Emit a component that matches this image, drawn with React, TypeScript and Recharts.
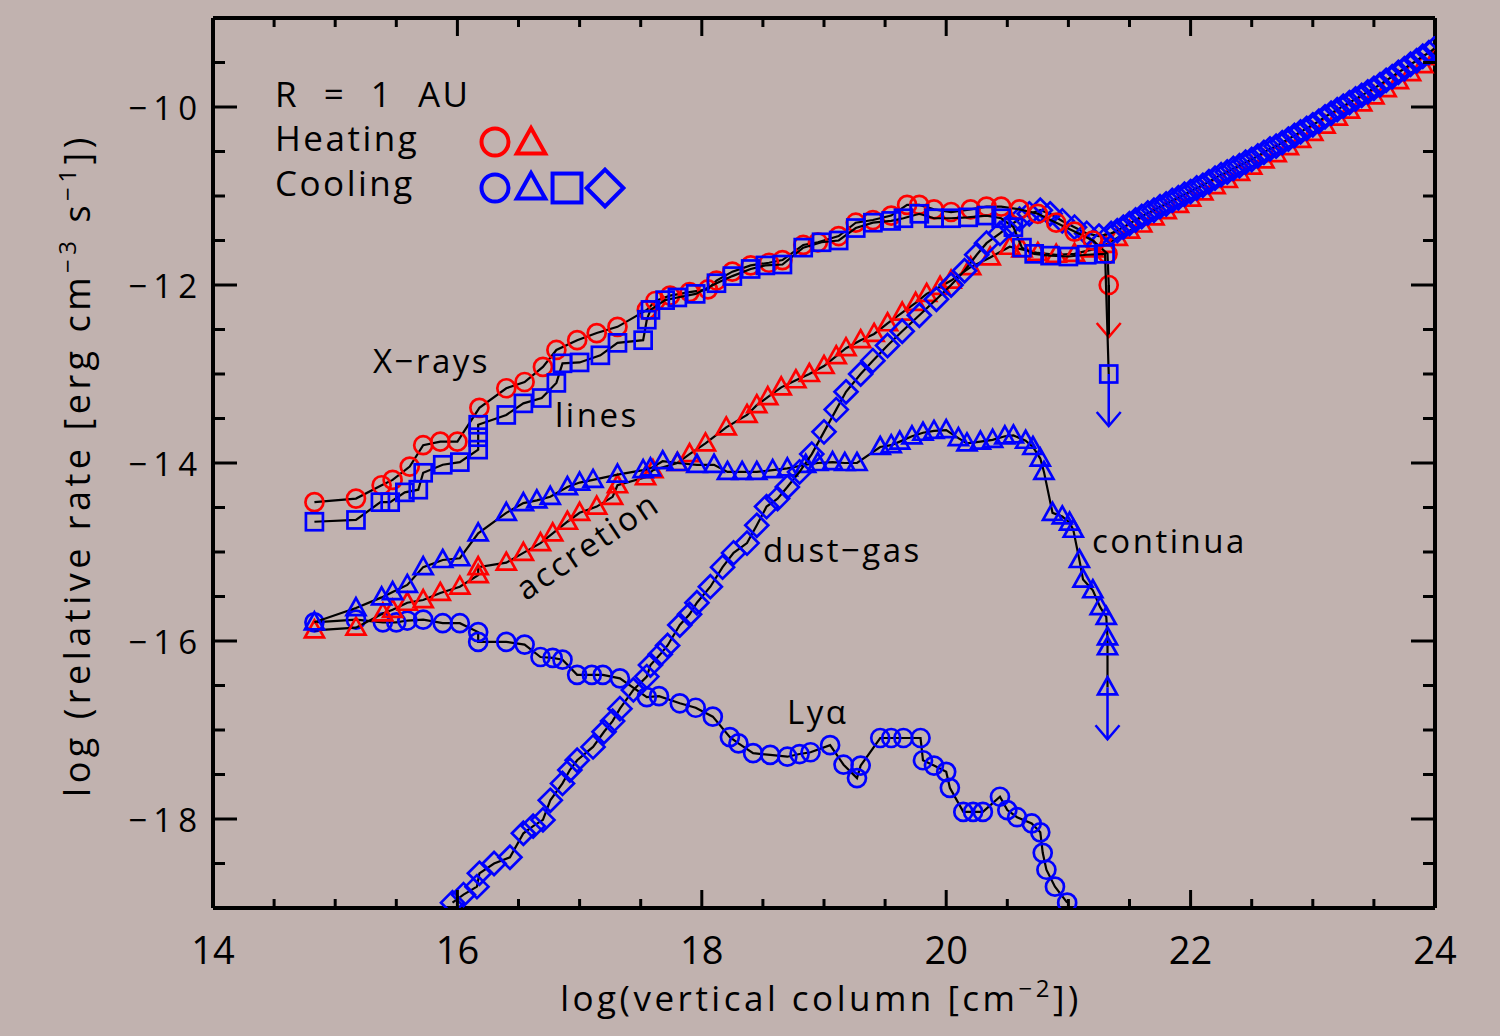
import React from "react";
import { ScatterChart, Scatter, XAxis, YAxis } from "recharts";

const RED = "#ff0000";
const BLUE = "#0000ff";
const BG = "#c1b2af";
const FONT = "'Open Sans', 'DejaVu Sans', sans-serif";

// [log vertical column, log relative rate]
const xraysHeating = [
  [14.83, -14.44], [15.17, -14.4], [15.38, -14.25], [15.47, -14.19], [15.61, -14.04],
  [15.72, -13.8], [15.86, -13.76], [16.0, -13.76], [16.18, -13.38], [16.4, -13.16],
  [16.55, -13.09], [16.7, -12.92], [16.81, -12.73], [16.98, -12.62], [17.14, -12.54],
  [17.31, -12.47], [17.55, -12.28], [17.62, -12.18], [17.74, -12.12], [17.9, -12.08],
  [18.05, -12.05], [18.12, -11.95], [18.25, -11.85], [18.4, -11.78], [18.55, -11.75],
  [18.66, -11.72], [18.83, -11.55], [18.95, -11.52], [19.12, -11.45], [19.26, -11.3],
  [19.4, -11.27], [19.55, -11.22], [19.68, -11.1], [19.78, -11.1], [19.9, -11.15],
  [20.04, -11.18], [20.2, -11.15], [20.33, -11.12], [20.45, -11.12], [20.6, -11.15],
  [20.75, -11.2], [20.9, -11.3], [21.05, -11.4], [21.2, -11.5], [21.32, -11.65],
  [21.33, -12.0],
];

const accretionHeating = [
  [14.83, -15.88], [15.17, -15.85], [15.39, -15.69], [15.47, -15.65], [15.59, -15.57],
  [15.72, -15.54], [15.86, -15.46], [16.02, -15.39], [16.17, -15.26], [16.17, -15.17],
  [16.4, -15.12], [16.54, -15.01], [16.68, -14.9], [16.78, -14.79], [16.9, -14.66],
  [17.0, -14.56], [17.14, -14.49], [17.27, -14.38], [17.31, -14.25], [17.54, -14.16],
  [17.6, -14.08], [17.8, -14.0], [17.9, -13.9], [18.03, -13.78], [18.2, -13.6],
  [18.37, -13.46], [18.45, -13.35], [18.54, -13.26], [18.65, -13.15], [18.77, -13.07],
  [18.88, -13.0], [19.0, -12.91], [19.1, -12.8], [19.18, -12.71], [19.3, -12.62],
  [19.41, -12.55], [19.52, -12.43], [19.64, -12.31], [19.75, -12.2], [19.84, -12.1],
  [19.95, -12.02], [20.04, -11.95], [20.2, -11.8], [20.36, -11.69], [20.52, -11.57],
  [20.62, -11.6], [20.75, -11.64], [20.9, -11.66], [21.05, -11.65], [21.2, -11.6],
  [21.3, -11.55], [21.4, -11.47], [21.5, -11.39], [21.6, -11.32], [21.7, -11.24],
  [21.8, -11.17], [21.9, -11.1], [22.0, -11.03], [22.1, -10.96], [22.2, -10.89],
  [22.3, -10.82], [22.4, -10.74], [22.5, -10.67], [22.6, -10.6], [22.7, -10.53],
  [22.8, -10.45], [22.9, -10.37], [23.0, -10.29], [23.1, -10.21], [23.2, -10.12],
  [23.3, -10.04], [23.4, -9.96], [23.5, -9.88], [23.6, -9.8], [23.7, -9.71],
  [23.8, -9.62], [23.9, -9.53], [24.0, -9.44],
];

const linesCooling = [
  [14.83, -14.66], [15.17, -14.64], [15.37, -14.44], [15.45, -14.44], [15.57, -14.33],
  [15.68, -14.3], [15.72, -14.11], [15.88, -14.02], [16.02, -13.99], [16.17, -13.85],
  [16.17, -13.71], [16.17, -13.57], [16.4, -13.46], [16.54, -13.33], [16.69, -13.27],
  [16.81, -13.1], [16.86, -12.88], [17.0, -12.87], [17.17, -12.79], [17.31, -12.65],
  [17.52, -12.62], [17.55, -12.39], [17.58, -12.28], [17.7, -12.17], [17.8, -12.14],
  [17.95, -12.1], [18.12, -11.98], [18.25, -11.9], [18.4, -11.82], [18.52, -11.78],
  [18.66, -11.77], [18.83, -11.58], [18.98, -11.52], [19.12, -11.5], [19.26, -11.36],
  [19.4, -11.3], [19.55, -11.28], [19.65, -11.25], [19.78, -11.2], [19.9, -11.25],
  [20.04, -11.25], [20.18, -11.24], [20.33, -11.22], [20.45, -11.25], [20.55, -11.35],
  [20.62, -11.58], [20.72, -11.65], [20.85, -11.67], [21.0, -11.68], [21.15, -11.66],
  [21.3, -11.65], [21.33, -13.0],
];

const continuaCooling = [
  [14.83, -15.79], [15.17, -15.63], [15.38, -15.51], [15.47, -15.45], [15.59, -15.37],
  [15.72, -15.17], [15.88, -15.09], [16.02, -15.07], [16.17, -14.79], [16.4, -14.56],
  [16.54, -14.45], [16.65, -14.42], [16.76, -14.38], [16.9, -14.27], [17.0, -14.22],
  [17.11, -14.19], [17.31, -14.13], [17.52, -14.08], [17.58, -14.06], [17.68, -13.98],
  [17.8, -14.0], [17.96, -14.02], [18.1, -14.02], [18.21, -14.1], [18.33, -14.1],
  [18.45, -14.1], [18.58, -14.08], [18.7, -14.06], [18.85, -14.02], [18.95, -14.0],
  [19.07, -13.99], [19.17, -14.0], [19.27, -14.0], [19.46, -13.82], [19.55, -13.8],
  [19.62, -13.76], [19.72, -13.7], [19.81, -13.66], [19.9, -13.64], [20.0, -13.63],
  [20.1, -13.72], [20.17, -13.78], [20.28, -13.76], [20.38, -13.74], [20.48, -13.7],
  [20.55, -13.69], [20.65, -13.75], [20.71, -13.82], [20.77, -13.95], [20.8, -14.1],
  [20.87, -14.56], [20.95, -14.6], [21.01, -14.67], [21.04, -14.75], [21.09, -15.09],
  [21.12, -15.31], [21.2, -15.43], [21.26, -15.62], [21.31, -15.73], [21.32, -15.96],
  [21.32, -16.07], [21.32, -16.52],
];

const dustGasCooling = [
  [15.96, -18.94], [16.05, -18.85], [16.16, -18.76], [16.18, -18.61], [16.3, -18.5],
  [16.43, -18.43], [16.54, -18.16], [16.62, -18.08], [16.7, -18.01], [16.76, -17.79],
  [16.86, -17.6], [16.92, -17.45], [16.98, -17.34], [17.11, -17.19], [17.2, -17.02],
  [17.27, -16.9], [17.33, -16.76], [17.44, -16.55], [17.55, -16.4], [17.58, -16.27],
  [17.66, -16.15], [17.72, -16.05], [17.82, -15.82], [17.9, -15.7], [17.96, -15.57],
  [18.07, -15.39], [18.17, -15.17], [18.26, -15.01], [18.37, -14.9], [18.45, -14.7],
  [18.53, -14.49], [18.62, -14.4], [18.7, -14.27], [18.8, -14.1], [18.9, -13.9],
  [19.0, -13.65], [19.1, -13.4], [19.18, -13.2], [19.3, -13.0], [19.4, -12.85],
  [19.52, -12.68], [19.64, -12.52], [19.78, -12.34], [19.92, -12.16], [20.04, -12.0],
  [20.15, -11.84], [20.25, -11.66], [20.33, -11.53], [20.44, -11.42], [20.52, -11.33],
  [20.6, -11.26], [20.68, -11.2], [20.77, -11.16], [20.85, -11.2], [20.95, -11.28],
  [21.05, -11.35], [21.15, -11.42], [21.25, -11.45], [21.35, -11.42], [21.4, -11.39],
  [21.45, -11.35], [21.5, -11.31], [21.55, -11.27], [21.6, -11.23], [21.65, -11.19],
  [21.7, -11.16], [21.75, -11.12], [21.8, -11.09], [21.85, -11.05], [21.9, -11.02],
  [21.95, -10.98], [22.0, -10.95], [22.05, -10.91], [22.1, -10.88], [22.15, -10.84],
  [22.2, -10.8], [22.25, -10.76], [22.3, -10.73], [22.35, -10.69], [22.4, -10.66],
  [22.45, -10.62], [22.5, -10.59], [22.55, -10.55], [22.6, -10.51], [22.65, -10.47],
  [22.7, -10.44], [22.75, -10.4], [22.8, -10.36], [22.85, -10.32], [22.9, -10.28],
  [22.95, -10.24], [23.0, -10.2], [23.05, -10.16], [23.1, -10.11], [23.15, -10.07],
  [23.2, -10.03], [23.25, -9.99], [23.3, -9.95], [23.35, -9.91], [23.4, -9.87],
  [23.45, -9.83], [23.5, -9.79], [23.55, -9.75], [23.6, -9.7], [23.65, -9.66],
  [23.7, -9.61], [23.75, -9.57], [23.8, -9.52], [23.85, -9.48], [23.9, -9.43],
  [23.95, -9.39], [24.0, -9.34],
];

const lyaCooling = [
  [14.83, -15.79], [15.17, -15.76], [15.39, -15.79], [15.5, -15.79], [15.59, -15.77],
  [15.72, -15.76], [15.88, -15.8], [16.02, -15.8], [16.17, -15.9], [16.17, -16.01],
  [16.4, -16.01], [16.55, -16.04], [16.68, -16.18], [16.78, -16.19], [16.86, -16.21],
  [16.98, -16.38], [17.1, -16.38], [17.19, -16.38], [17.33, -16.42], [17.55, -16.63],
  [17.65, -16.62], [17.82, -16.7], [17.95, -16.75], [18.09, -16.85], [18.23, -17.08],
  [18.3, -17.15], [18.42, -17.26], [18.56, -17.28], [18.7, -17.3], [18.8, -17.27],
  [18.89, -17.25], [19.05, -17.17], [19.16, -17.39], [19.27, -17.54], [19.3, -17.4],
  [19.46, -17.09], [19.55, -17.09], [19.65, -17.09], [19.79, -17.09], [19.81, -17.34],
  [19.9, -17.4], [20.0, -17.47], [20.03, -17.65], [20.14, -17.92], [20.22, -17.92],
  [20.3, -17.92], [20.44, -17.75], [20.5, -17.9], [20.58, -17.98], [20.7, -18.05],
  [20.77, -18.15], [20.79, -18.38], [20.82, -18.57], [20.89, -18.76], [20.99, -18.94],
];

const xTicks = [14, 14.5, 15, 15.5, 16, 16.5, 17, 17.5, 18, 18.5, 19, 19.5, 20, 20.5, 21, 21.5, 22, 22.5, 23, 23.5, 24];
const yTicks = [-19, -18.5, -18, -17.5, -17, -16.5, -16, -15.5, -15, -14.5, -14, -13.5, -13, -12.5, -12, -11.5, -11, -10.5, -10, -9.5, -9];

// last point of these series is an upper limit
const toPoints = (arr: number[][], lastIsLimit = false) =>
  arr.map((p, i) => ({ x: p[0], y: p[1], limit: lastIsLimit && i === arr.length - 1 }));

const Marker = ({ cx, cy, kind, color, limit, shaft, s = 1, sw = 2.7 }: any) => {
  if (cx == null || cy == null) return null;
  let sym: any = null;
  if (kind === "circle") {
    sym = <circle cx={cx} cy={cy} r={9 * s} fill="none" stroke={color} strokeWidth={sw} />;
  } else if (kind === "triangle") {
    const pts = `${cx},${cy - 10 * s} ${cx + 9.5 * s},${cy + 7 * s} ${cx - 9.5 * s},${cy + 7 * s}`;
    sym = <polygon points={pts} fill="none" stroke={color} strokeWidth={sw} strokeLinejoin="miter" />;
  } else if (kind === "square") {
    sym = <rect x={cx - 8.5 * s} y={cy - 8.5 * s} width={17 * s} height={17 * s} fill="none" stroke={color} strokeWidth={sw} />;
  } else {
    const d = 11.5 * s;
    const pts = `${cx},${cy - d} ${cx + d},${cy} ${cx},${cy + d} ${cx - d},${cy}`;
    sym = <polygon points={pts} fill="none" stroke={color} strokeWidth={sw} />;
  }
  return (
    <g>
      {limit && (
        <g>
          <line x1={cx} y1={cy} x2={cx} y2={cy + 52} stroke={shaft || color} strokeWidth={2.5} />
          <polyline
            points={`${cx - 12},${cy + 38} ${cx},${cy + 52} ${cx + 12},${cy + 38}`}
            fill="none"
            stroke={color}
            strokeWidth={2.5}
          />
        </g>
      )}
      {sym}
    </g>
  );
};

const shapeOf = (kind: string, color: string, shaft?: string) => (p: any) =>
  <Marker cx={p.cx} cy={p.cy} kind={kind} color={color} limit={p.payload && p.payload.limit} shaft={shaft} />;

const isMajor = (v: number) => Math.abs(v % 2) < 1e-9;

const XTick = ({ x, y, payload, top }: any) => {
  const v = payload.value;
  const len = isMajor(v) ? 18 : 9;
  return (
    <g>
      <line x1={x} x2={x} y1={y} y2={top ? y + len : y - len} stroke="#000" strokeWidth={3} />
      {!top && isMajor(v) && (
        <text x={x} y={y + 56} textAnchor="middle" fontFamily={FONT} fontSize={38} fill="#000">
          {v}
        </text>
      )}
    </g>
  );
};

const YTick = ({ x, y, payload, right }: any) => {
  const v = payload.value;
  const major = isMajor(v);
  const len = major ? 24 : 12;
  const show = !right && major && v > -19 && v < -9;
  return (
    <g>
      <line x1={x} x2={right ? x - len : x + len} y1={y} y2={y} stroke="#000" strokeWidth={3} />
      {show && (
        <text x={x - 10} y={y} textAnchor="end" dominantBaseline="central" fontFamily={FONT} fontSize={33} letterSpacing={6} fill="#000">
          {"\u2212" + Math.abs(v)}
        </text>
      )}
    </g>
  );
};

const txt = { fontFamily: FONT, fill: "#000", letterSpacing: 2.5 } as any;
const seriesLine = { stroke: "#000", strokeWidth: 2.2 };

export default function App() {
  return (
    <div style={{ position: "absolute", left: 0, top: 0, width: 1500, height: 1036, background: BG, overflow: "hidden" }}>
      <ScatterChart width={1500} height={1036} margin={{ top: 8, right: 55, bottom: 118, left: 113 }}>
        <XAxis
          xAxisId="b"
          type="number"
          dataKey="x"
          domain={[14, 24]}
          ticks={xTicks}
          interval={0}
          height={10}
          tickSize={0}
          tickMargin={0}
          tickLine={false}
          axisLine={{ stroke: "#000", strokeWidth: 4 }}
          tick={<XTick />}
          allowDataOverflow
        />
        <XAxis
          xAxisId="t"
          orientation="top"
          type="number"
          dataKey="x"
          domain={[14, 24]}
          ticks={xTicks}
          interval={0}
          height={10}
          tickSize={0}
          tickMargin={0}
          tickLine={false}
          axisLine={{ stroke: "#000", strokeWidth: 4 }}
          tick={<XTick top />}
          allowDataOverflow
        />
        <YAxis
          yAxisId="l"
          type="number"
          dataKey="y"
          domain={[-19, -9]}
          ticks={yTicks}
          interval={0}
          width={100}
          tickSize={0}
          tickMargin={0}
          tickLine={false}
          axisLine={{ stroke: "#000", strokeWidth: 4 }}
          tick={<YTick />}
          allowDataOverflow
        />
        <YAxis
          yAxisId="r"
          orientation="right"
          type="number"
          dataKey="y"
          domain={[-19, -9]}
          ticks={yTicks}
          interval={0}
          width={10}
          tickSize={0}
          tickMargin={0}
          tickLine={false}
          axisLine={{ stroke: "#000", strokeWidth: 4 }}
          tick={<YTick right />}
          allowDataOverflow
        />
        <Scatter xAxisId="b" yAxisId="l" data={toPoints(lyaCooling)} line={seriesLine} lineType="joint" shape={shapeOf("circle", BLUE)} isAnimationActive={false} />
        <Scatter xAxisId="b" yAxisId="l" data={toPoints(accretionHeating)} line={seriesLine} lineType="joint" shape={shapeOf("triangle", RED)} isAnimationActive={false} />
        <Scatter xAxisId="b" yAxisId="l" data={toPoints(continuaCooling, true)} line={seriesLine} lineType="joint" shape={shapeOf("triangle", BLUE)} isAnimationActive={false} />
        <Scatter xAxisId="b" yAxisId="l" data={toPoints(dustGasCooling)} line={seriesLine} lineType="joint" shape={shapeOf("diamond", BLUE)} isAnimationActive={false} />
        <Scatter xAxisId="b" yAxisId="l" data={toPoints(xraysHeating, true)} line={seriesLine} lineType="joint" shape={shapeOf("circle", RED, "#000")} isAnimationActive={false} />
        <Scatter xAxisId="b" yAxisId="l" data={toPoints(linesCooling, true)} line={seriesLine} lineType="joint" shape={shapeOf("square", BLUE)} isAnimationActive={false} />
      </ScatterChart>

      <svg width={1500} height={1036} style={{ position: "absolute", left: 0, top: 0, pointerEvents: "none" }}>
        {/* legend */}
        <text x={275} y={107} fontSize={35} wordSpacing={13} {...txt}>R = 1 AU</text>
        <text x={275} y={151} fontSize={35} {...txt}>Heating</text>
        <text x={275} y={196} fontSize={35} {...txt}>Cooling</text>
        <Marker cx={495} cy={142} kind="circle" color={RED} s={1.5} sw={4} />
        <Marker cx={531} cy={143} kind="triangle" color={RED} s={1.5} sw={4} />
        <Marker cx={495} cy={188} kind="circle" color={BLUE} s={1.5} sw={4} />
        <Marker cx={531} cy={188} kind="triangle" color={BLUE} s={1.5} sw={4} />
        <Marker cx={567} cy={188} kind="square" color={BLUE} s={1.7} sw={4} />
        <Marker cx={605} cy={188} kind="diamond" color={BLUE} s={1.6} sw={4} />

        {/* curve labels */}
        <text x={373} y={373} fontSize={33} {...txt}>X{"\u2212"}rays</text>
        <text x={555} y={427} fontSize={33} {...txt}>lines</text>
        <text x={587} y={545} fontSize={33} textAnchor="middle" dominantBaseline="central" transform="rotate(-34 587 545)" {...txt}>accretion</text>
        <text x={763} y={562} fontSize={33} {...txt}>dust{"\u2212"}gas</text>
        <text x={1092} y={553} fontSize={33} {...txt}>continua</text>
        <text x={787} y={724} fontSize={33} {...txt}>Ly{"\u03b1"}</text>

        {/* axis titles */}
        <text x={821} y={1011} fontSize={35} textAnchor="middle" {...txt} letterSpacing={3.5}>
          log(vertical column [cm<tspan dy={-14} fontSize={24}>{"\u2212"}2</tspan><tspan dy={14}>])</tspan>
        </text>
        <text x={90} y={465} fontSize={36} textAnchor="middle" transform="rotate(-90 90 465)" {...txt} letterSpacing={4.5}>
          log (relative rate [erg cm<tspan dy={-14} fontSize={24}>{"\u2212"}3</tspan>
          <tspan dy={14}> s</tspan><tspan dy={-14} fontSize={24}>{"\u2212"}1</tspan><tspan dy={14}>])</tspan>
        </text>
      </svg>
    </div>
  );
}
